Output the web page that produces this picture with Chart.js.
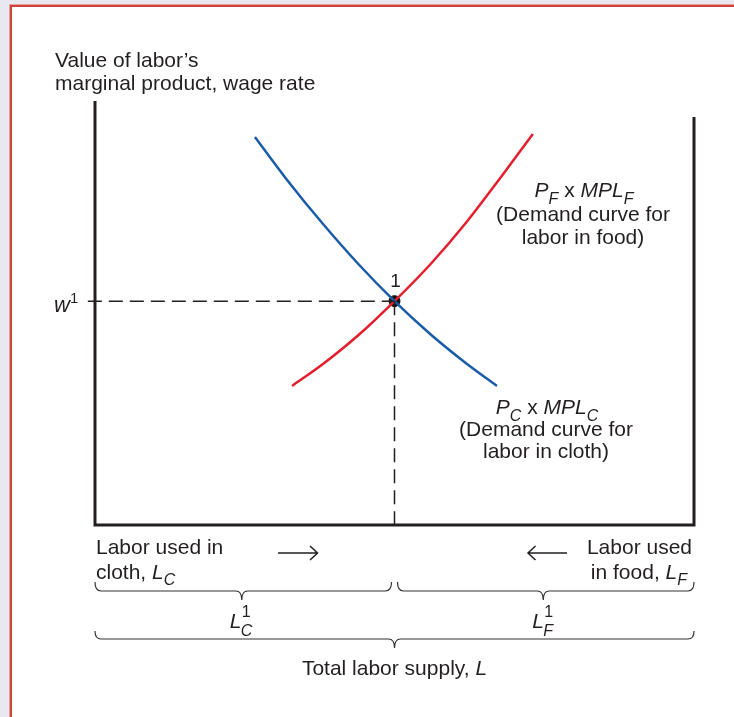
<!DOCTYPE html>
<html><head><meta charset="utf-8">
<script src="https://cdn.jsdelivr.net/npm/chart.js@4"></script>
<style>html,body{margin:0;padding:0;background:#fff;overflow:hidden}canvas{display:block}</style>
</head><body>
<canvas id="c" width="734" height="717"></canvas>
<script>
// ---- data (labor units on x: 0..100 = total labor supply; wage on y) ----
const laborRange = [0, 100];
const wageRange = [0, 100];
const clothX = [26.7, 32, 38, 44, 50, 56, 62, 67.1];
const clothY = [91.5, 81.5, 71.1, 61.5, 52.8, 45.0, 38.1, 32.8];
const foodX = [32.9, 38, 44, 50, 56, 62, 68, 73.1];
const foodY = [32.8, 37.9, 44.8, 52.8, 61.5, 71.4, 82.5, 92.2];
const equilibriumL = [50];
const equilibriumW = [52.8];
const frameX = [0, 0, 100, 100];
const frameY = [100, 0, 0, 96.2];
const wageDashX = [-1.2, 50];
const laborDashY = [52.8, 0];

const FONT = "'Liberation Sans', Arial, Helvetica, sans-serif";
const TXT = '#231f20';
const BASE = 21;
const pts = (xs, ys) => xs.map((x, i) => ({x, y: ys[i]}));

function rich(ctx, segs, x, y, align) {
  let w = 0;
  segs.forEach(s => { ctx.font = (s.i ? 'italic ' : '') + (s.s || BASE) + 'px ' + FONT; s.w = ctx.measureText(s.t).width; w += s.w + (s.gap || 0); });
  let sx = align === 'center' ? x - w / 2 : align === 'right' ? x - w : x;
  ctx.textAlign = 'left'; ctx.textBaseline = 'alphabetic'; ctx.fillStyle = TXT;
  segs.forEach(s => { ctx.font = (s.i ? 'italic ' : '') + (s.s || BASE) + 'px ' + FONT; ctx.fillText(s.t, sx, y + (s.dy || 0)); sx += s.w + (s.gap || 0); });
}

function brace(ctx, x1, x2, tip, yTop, yLine, yTip) {
  const r = 6;
  ctx.beginPath();
  ctx.moveTo(x1, yTop);
  ctx.quadraticCurveTo(x1, yLine, x1 + r, yLine);
  ctx.lineTo(tip - r, yLine);
  ctx.quadraticCurveTo(tip, yLine, tip, yTip);
  ctx.quadraticCurveTo(tip, yLine, tip + r, yLine);
  ctx.lineTo(x2 - r, yLine);
  ctx.quadraticCurveTo(x2, yLine, x2, yTop);
  ctx.stroke();
}

const deco = {
  id: 'deco',
  beforeDraw(chart) {
    const ctx = chart.ctx;
    ctx.save();
    ctx.fillStyle = '#e8e8f1'; ctx.fillRect(0, 0, 734, 717);
    ctx.fillStyle = '#e6a19b'; ctx.fillRect(9, 4, 725, 713);
    ctx.fillStyle = '#d1403a'; ctx.fillRect(10, 5, 724, 712);
    ctx.fillStyle = '#ffffff'; ctx.fillRect(12, 7, 722, 710);
    ctx.restore();
  },
  afterDraw(chart) {
    const ctx = chart.ctx, xs = chart.scales.x, ys = chart.scales.y;
    const X = v => xs.getPixelForValue(v), Y = v => ys.getPixelForValue(v);
    const eqx = X(equilibriumL[0]), eqy = Y(equilibriumW[0]);
    const bottom = Y(0);
    ctx.save();
    // y axis title
    rich(ctx, [{t: 'Value of labor’s'}], 55, 67, 'left');
    rich(ctx, [{t: 'marginal product, wage rate'}], 55, 90, 'left');
    // w1
    rich(ctx, [{t: 'w', i: 1, s: 22}, {t: '1', s: 15, dy: -9}], 54, eqy + 11, 'left');
    // point label
    rich(ctx, [{t: '1', s: 19}], eqx + 1, eqy - 14, 'center');
    // food curve label
    rich(ctx, [{t: 'P', i: 1}, {t: 'F', i: 1, s: 16, dy: 7}, {t: ' x '}, {t: 'MPL', i: 1}, {t: 'F', i: 1, s: 16, dy: 7}], 584, 197, 'center');
    rich(ctx, [{t: '(Demand curve for'}], 583, 221, 'center');
    rich(ctx, [{t: 'labor in food)'}], 583, 244, 'center');
    // cloth curve label
    rich(ctx, [{t: 'P', i: 1}, {t: 'C', i: 1, s: 16, dy: 7}, {t: ' x '}, {t: 'MPL', i: 1}, {t: 'C', i: 1, s: 16, dy: 7}], 547, 414, 'center');
    rich(ctx, [{t: '(Demand curve for'}], 546, 436, 'center');
    rich(ctx, [{t: 'labor in cloth)'}], 546, 458, 'center');
    // bottom labels
    rich(ctx, [{t: 'Labor used in'}], X(0) + 1, bottom + 29, 'left');
    rich(ctx, [{t: 'cloth, '}, {t: 'L', i: 1}, {t: 'C', i: 1, s: 16, dy: 6}], X(0) + 1, bottom + 54, 'left');
    rich(ctx, [{t: 'Labor used'}], X(100) - 2, bottom + 29, 'right');
    rich(ctx, [{t: 'in food, '}, {t: 'L', i: 1}, {t: 'F', i: 1, s: 16, dy: 6}], X(100) - 7, bottom + 54, 'right');
    // arrows
    ctx.strokeStyle = TXT; ctx.lineWidth = 1.5;
    const ay = bottom + 28;
    ctx.beginPath(); ctx.moveTo(278, ay); ctx.lineTo(317, ay);
    ctx.moveTo(310, ay - 7); ctx.lineTo(317.5, ay); ctx.lineTo(310, ay + 7); ctx.stroke();
    ctx.beginPath(); ctx.moveTo(528, ay); ctx.lineTo(567, ay);
    ctx.moveTo(535.5, ay - 7); ctx.lineTo(528, ay); ctx.lineTo(535.5, ay + 7); ctx.stroke();
    // braces
    ctx.strokeStyle = '#333'; ctx.lineWidth = 1.2;
    const tipC = (X(0) + eqx) / 2 - 3, tipF = (eqx + X(100)) / 2 - 1;
    brace(ctx, X(0), eqx - 3, tipC, bottom + 57, bottom + 66, bottom + 75);
    brace(ctx, eqx + 3, X(100), tipF, bottom + 57, bottom + 66, bottom + 75);
    brace(ctx, X(0), X(100), eqx, bottom + 106, bottom + 114, bottom + 123);
    // L_C^1 and L_F^1
    [[tipC - 4, 'C'], [tipF - 3, 'F']].forEach(([cx, sub]) => {
      ctx.fillStyle = TXT;
      ctx.font = 'italic ' + BASE + 'px ' + FONT; ctx.textAlign = 'left';
      ctx.fillText('L', cx - 8, bottom + 103);
      ctx.font = 'italic 16px ' + FONT; ctx.fillText(sub, cx + 3, bottom + 111);
      ctx.font = '16px ' + FONT; ctx.fillText('1', cx + 4, bottom + 92);
    });
    rich(ctx, [{t: 'Total labor supply, '}, {t: 'L', i: 1}], eqx, bottom + 150, 'center');
    ctx.restore();
  }
};

new Chart(document.getElementById('c'), {
  type: 'scatter',
  data: {
    datasets: [
      {data: pts(frameX, frameY), showLine: true, borderColor: '#231f20', borderWidth: 3, pointRadius: 0, tension: 0, clip: false, borderJoinStyle: 'miter', borderCapStyle: 'butt'},
      {data: pts(wageDashX, [equilibriumW[0], equilibriumW[0]]), showLine: true, borderColor: '#231f20', borderWidth: 1.5, borderDash: [14, 7], pointRadius: 0, clip: false},
      {data: pts([equilibriumL[0], equilibriumL[0]], laborDashY), showLine: true, borderColor: '#231f20', borderWidth: 1.5, borderDash: [14, 7], pointRadius: 0, clip: false},
      {data: pts(clothX, clothY), showLine: true, borderColor: '#1a5ca8', borderWidth: 2.5, pointRadius: 0, cubicInterpolationMode: 'monotone', clip: false},
      {data: pts(foodX, foodY), showLine: true, borderColor: '#e41e2d', borderWidth: 2.5, pointRadius: 0, cubicInterpolationMode: 'monotone', clip: false},
      {data: pts(equilibriumL, equilibriumW), showLine: false, pointRadius: 5.5, pointBackgroundColor: '#111', pointBorderColor: '#111', pointBorderWidth: 1, clip: false}
    ]
  },
  options: {
    responsive: false, devicePixelRatio: 1, animation: false,
    layout: {padding: {left: 95, right: 40, top: 101, bottom: 192}},
    plugins: {legend: {display: false}, tooltip: {enabled: false}},
    events: [],
    scales: {
      x: {type: 'linear', min: laborRange[0], max: laborRange[1], display: false},
      y: {type: 'linear', min: wageRange[0], max: wageRange[1], display: false}
    }
  },
  plugins: [deco]
});
</script>
</body></html>
